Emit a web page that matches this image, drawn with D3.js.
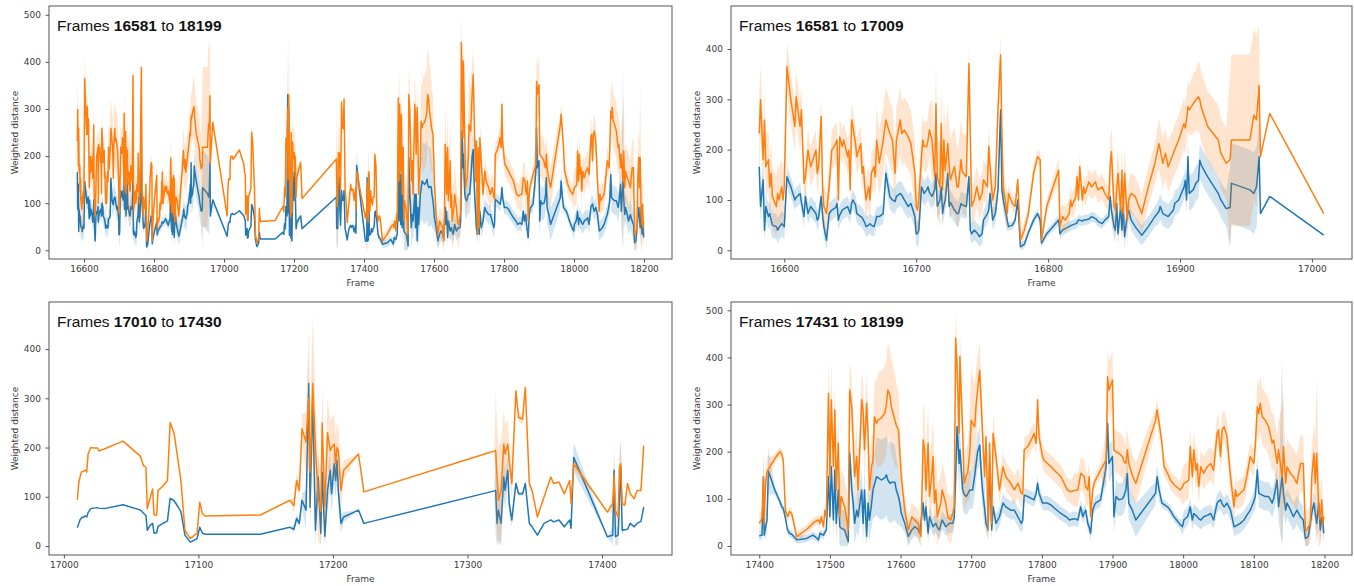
<!DOCTYPE html>
<html>
<head>
<meta charset="utf-8">
<script src="https://cdn.jsdelivr.net/npm/d3@7"></script>
<style>
  body { margin: 0; background: #fff; }
</style>
</head>
<body>
<div id="chart"></div>
<script>
// Frames 16581 - 17009
const framesA = [
  16581,16582,16584,16585,16586,16588,16589,16590,16591,16594,
  16595,16596,16598,16599,16600,16602,16605,16608,16609,16612,
  16613,16615,16616,16618,16620,16624,16625,16626,16628,16629,
  16630,16632,16634,16636,16639,16640,16641,16642,16644,16645,
  16648,16649,16650,16651,16652,16654,16655,16658,16659,16660,
  16661,16662,16664,16665,16666,16668,16669,16670,16671,16672,
  16675,16677,16680,16682,16684,16685,16688,16689,16691,16694,
  16696,16699,16700,16701,16702,16704,16705,16706,16708,16709,
  16710,16712,16714,16715,16716,16718,16719,16720,16721,16722,
  16724,16725,16726,16729,16731,16732,16734,16735,16738,16740,
  16741,16742,16744,16746,16748,16750,16751,16754,16755,16756,
  16758,16760,16762,16764,16765,16766,16769,16770,16773,16775,
  16777,16779,16782,16785,16789,16792,16794,16795,16799,16803,
  16808,16809,16811,16813,16816,16817,16818,16821,16822,16823,
  16824,16826,16827,16828,16831,16833,16836,16837,16838,16841,
  16843,16846,16847,16848,16850,16851,16852,16853,16855,16856,
  16857,16858,16860,16861,16863,16866,16871,16876,16881,16884,
  16885,16886,16887,16889,16891,16895,16896,16899,16901,16903,
  16904,16905,16906,16907,16910,16912,16914,16915,16916,16921,
  16929,16931,16935,16938,16939,16953,16956,16958,16960,16961,
  16968,17009
];
const blueA = [
  166,87,140,40,87,67,73,60,50,47,
  40,45,53,50,47,146,126,100,105,113,
  95,67,107,73,87,73,60,65,107,70,
  47,20,73,80,85,93,60,70,80,82,
  87,80,73,93,100,90,73,67,65,60,
  55,47,50,53,50,47,55,67,67,67,
  73,153,107,100,97,107,113,110,100,87,
  93,67,33,33,40,126,120,113,120,126,
  115,107,120,153,87,100,126,73,90,100,
  153,87,95,80,73,73,93,90,87,146,
  40,33,40,35,27,33,60,73,80,113,
  60,73,120,279,120,100,60,47,50,60,
  100,7,12,35,60,73,60,14,33,45,
  60,33,40,43,47,49,50,53,55,60,
  60,58,60,60,62,67,63,60,57,53,
  60,67,107,80,47,40,93,33,87,40,
  87,27,70,80,60,47,30,47,67,77,
  87,80,73,70,67,80,93,100,113,125,
  139,100,186,113,120,133,139,179,170,146,
  113,100,83,85,133,120,113,126,186,73,
  107,30
];
const blueErrA = [
  40,30,25,25,25,25,25,25,25,25,
  25,25,25,25,25,20,20,20,20,20,
  20,20,20,20,20,20,20,20,20,20,
  20,20,20,20,20,20,20,20,20,20,
  20,20,20,20,20,20,20,20,20,20,
  20,20,20,20,20,20,20,20,20,20,
  20,25,25,25,25,25,25,25,25,25,
  25,25,25,25,25,25,25,25,25,25,
  25,25,25,25,25,25,25,25,25,25,
  25,25,25,25,25,25,25,25,25,20,
  20,20,20,20,20,20,20,20,20,20,
  20,20,20,30,20,20,20,8,8,8,
  8,8,8,8,8,8,8,8,8,8,
  10,10,10,10,10,10,10,10,10,10,
  10,10,10,10,10,10,10,10,10,10,
  10,10,25,25,25,25,25,25,25,25,
  25,25,25,20,20,20,20,20,20,25,
  25,25,25,25,25,25,25,25,25,25,
  25,25,35,35,35,35,35,35,35,35,
  35,35,35,80,80,80,80,80,60,0,
  0,0
];
const orangeA = [
  232,299,180,259,166,180,126,153,107,87,
  113,100,126,100,126,365,299,246,305,246,
  279,133,146,199,166,199,153,166,266,126,
  87,73,126,199,212,219,100,225,206,219,
  186,199,120,259,246,212,186,212,153,166,
  126,100,126,100,153,166,146,219,199,173,
  219,259,232,219,153,219,259,232,239,225,
  212,153,87,80,100,186,219,206,206,219,
  239,219,146,291,146,126,252,120,219,159,
  212,166,140,166,126,126,180,156,146,371,
  232,87,100,126,100,113,140,126,206,166,
  100,126,279,388,232,126,73,113,93,87,
  140,20,40,73,153,186,180,20,87,120,
  159,47,67,60,73,100,87,107,146,100,
  166,100,126,113,136,126,136,125,120,126,
  113,100,166,196,87,80,120,153,80,159,
  73,153,60,100,113,107,73,126,173,212,
  200,186,173,193,166,193,200,219,235,252,
  243,260,285,279,291,299,305,300,285,246,
  219,193,173,180,219,219,269,259,328,186,
  272,73
];
const orangeErrA = [
  80,70,60,60,60,60,60,60,60,60,
  60,60,60,60,60,50,50,50,50,50,
  50,40,40,40,40,40,40,40,40,40,
  40,40,40,40,40,35,35,35,35,35,
  35,35,35,35,35,35,35,35,35,35,
  40,40,40,40,40,40,40,65,65,65,
  65,65,65,65,65,65,65,65,65,65,
  65,65,50,50,50,50,50,50,50,50,
  50,80,80,80,80,80,80,80,80,80,
  80,80,80,80,80,80,80,80,80,40,
  40,40,40,40,40,40,40,40,40,40,
  40,40,40,40,40,40,40,15,15,15,
  15,15,15,15,15,15,15,15,15,15,
  25,25,25,25,25,25,25,25,25,25,
  25,25,25,25,25,25,25,25,25,25,
  25,25,50,50,50,50,50,50,50,50,
  50,50,50,40,40,40,40,40,40,50,
  50,50,50,50,50,50,50,50,50,50,
  50,50,50,50,60,60,70,70,70,70,
  70,70,70,170,170,170,170,170,120,0,
  0,0
];

// Frames 17010 - 17431
const framesB = [
  17010,17011,17012,17013,17016,17017,17018,17020,17022,17025,
  17026,17030,17044,17057,17059,17061,17062,17064,17066,17067,
  17069,17070,17073,17077,17079,17082,17087,17090,17094,17097,
  17099,17101,17103,17105,17146,17168,17171,17173,17175,17177,
  17180,17182,17183,17185,17187,17189,17191,17192,17194,17196,
  17198,17199,17201,17202,17203,17204,17206,17208,17219,17223,
  17320,17321,17322,17323,17325,17327,17328,17330,17331,17333,17336,
  17338,17341,17343,17346,17348,17352,17357,17362,17364,17368,
  17372,17376,17377,17379,17404,17408,17409,17410,17412,17413,
  17414,17415,17417,17419,17421,17424,17426,17429,17431
];
const blueB = [
  37,45,53,57,61,59,68,76,77,78,
  77,76,84,73,67,62,32,42,46,26,
  27,40,45,51,97,92,70,22,8,12,
  15,38,26,24,24,38,34,56,46,93,
  73,330,79,300,32,140,26,150,20,113,
  154,106,167,133,174,113,46,59,73,46,
  112,113,46,73,46,140,113,154,86,53,127,
  106,106,127,46,39,22,46,53,49,53,
  39,53,36,180,19,22,154,19,22,100,
  160,32,33,34,46,39,46,50,79
];
const blueErrB = [
  0,0,0,0,0,0,0,0,0,0,
  0,0,0,0,0,0,0,0,0,0,
  0,0,0,0,0,0,0,0,0,0,
  0,0,0,0,0,0,8,8,8,15,
  40,60,50,60,50,50,50,50,40,40,
  40,40,40,40,40,40,20,10,0,0,
  0,90,70,60,60,40,40,30,20,15,5,
  5,5,5,0,0,0,0,0,0,0,
  0,0,0,30,0,20,60,20,20,60,
  60,10,0,0,0,0,0,0,0
];
const orangeB = [
  94,127,140,150,154,150,187,200,199,199,
  193,197,213,182,164,160,76,96,116,63,
  63,113,120,133,251,228,133,32,15,22,
  26,89,66,61,63,93,82,133,113,238,
  211,300,150,330,200,100,70,250,80,230,
  194,200,207,167,200,194,113,154,187,110,
  193,194,140,93,113,207,187,207,174,127,315,
  261,258,322,127,113,59,100,140,127,130,
  106,133,86,167,69,86,143,72,59,160,
  167,86,83,127,106,96,113,113,204
];
const orangeErrB = [
  0,0,0,0,0,0,0,0,0,0,
  0,0,0,0,0,0,0,0,0,0,
  0,0,0,0,0,0,0,0,0,0,
  0,0,0,0,0,0,15,15,15,30,
  60,140,100,140,90,90,80,80,70,70,
  60,60,60,60,50,50,40,20,0,0,
  0,120,110,110,100,70,60,50,40,30,10,
  10,10,10,5,5,0,0,0,0,0,
  0,0,0,10,0,20,40,20,20,40,
  40,10,0,0,0,0,0,0,0
];

// Frames 17400 - 18199
const framesC = [
  17400,17403,17404,17406,17407,17409,17411,17413,17415,17422,
  17429,17432,17434,17437,17440,17443,17446,17453,17467,17476,
  17479,17484,17486,17488,17491,17493,17495,17498,17500,17502,
  17505,17507,17509,17512,17514,17516,17521,17526,17528,17531,
  17533,17535,17538,17540,17545,17547,17549,17552,17554,17556,
  17559,17561,17563,17566,17568,17573,17578,17580,17582,17585,
  17587,17592,17594,17597,17599,17601,17606,17611,17616,17620,
  17625,17627,17629,17632,17634,17636,17639,17641,17644,17646,
  17648,17650,17652,17655,17657,17659,17664,17667,17669,17671,
  17674,17676,17678,17680,17683,17684,17688,17690,17693,17695,
  17698,17700,17702,17705,17707,17709,17712,17714,17716,17719,
  17721,17724,17726,17729,17731,17735,17740,17745,17749,17756,
  17761,17766,17771,17773,17775,17780,17785,17789,17792,17794,
  17796,17801,17803,17808,17813,17818,17827,17836,17839,17841,
  17846,17851,17855,17858,17860,17862,17865,17867,17869,17872,
  17874,17876,17883,17891,17893,17895,17900,17902,17905,17909,
  17914,17916,17919,17921,17923,17928,17933,17961,17963,17966,
  17970,17973,17978,17982,17987,17996,17999,18001,18006,18008,
  18010,18013,18015,18018,18020,18022,18025,18029,18034,18039,
  18043,18048,18050,18053,18055,18058,18062,18067,18072,18074,
  18076,18081,18086,18090,18095,18100,18102,18105,18107,18109,
  18112,18116,18121,18126,18128,18133,18135,18140,18142,18145,
  18147,18152,18156,18161,18166,18170,18173,18175,18177,18180,
  18182,18185,18187,18189,18192,18194,18196,18198,18199
];
const blueC = [
  21,23,23,147,23,40,55,158,150,119,
  95,83,80,60,34,27,25,13,16,23,
  20,13,27,25,23,30,34,147,62,168,
  55,161,48,119,41,38,34,9,197,119,
  91,48,76,62,119,48,119,20,91,55,
  90,119,130,147,145,140,145,151,140,133,
  135,135,119,105,91,70,48,20,34,41,
  35,27,50,91,55,83,27,62,50,41,
  45,48,40,34,45,55,41,45,48,48,
  48,60,147,253,175,204,119,110,105,110,
  119,119,119,150,175,200,214,160,119,80,
  48,34,175,34,83,48,62,91,83,76,
  76,62,48,55,108,105,101,98,112,133,
  112,91,91,91,87,80,69,60,55,56,
  58,55,83,62,70,76,48,40,27,76,
  85,91,98,168,260,175,190,62,105,98,
  100,105,120,154,91,76,55,112,147,119,
  91,88,83,75,62,45,41,55,62,70,
  83,55,69,65,62,58,55,62,65,69,
  55,91,95,98,90,83,91,76,41,42,
  44,48,55,65,76,95,105,161,112,110,
  108,105,105,91,100,140,83,147,110,76,
  91,76,62,76,62,55,16,18,20,48,
  70,91,70,48,91,34,60,48,27
];
const blueErrC = [
  10,10,10,60,10,20,30,50,40,10,
  8,8,8,8,8,8,8,8,8,8,
  8,8,8,8,8,8,8,40,40,40,
  40,40,40,40,40,40,40,40,40,40,
  45,45,45,45,45,45,45,45,45,45,
  50,60,70,80,85,85,85,85,85,85,
  85,80,70,60,50,30,20,20,20,20,
  20,20,20,20,20,20,20,20,20,20,
  20,20,20,20,20,20,20,20,20,20,
  20,20,60,60,60,40,40,40,40,40,
  40,40,40,40,40,40,40,40,40,40,
  20,20,20,20,20,20,20,20,20,20,
  20,20,20,20,15,15,15,15,15,15,
  15,15,15,15,15,15,15,15,15,15,
  15,15,15,15,15,15,15,15,15,15,
  15,15,15,35,40,40,35,35,35,35,
  35,35,35,35,35,35,35,25,25,25,
  10,10,10,10,10,10,20,20,20,20,
  20,20,20,20,20,20,20,20,20,20,
  20,20,20,20,20,20,20,20,20,20,
  20,20,20,20,20,20,30,30,30,30,
  30,30,30,30,30,30,30,250,40,30,
  30,30,30,30,30,30,20,20,20,20,
  25,25,25,40,25,25,25,20,20
];
const orangeC = [
  48,55,62,147,48,133,158,163,168,185,
  200,195,182,76,62,73,69,20,35,48,
  52,55,48,62,41,76,62,324,147,310,
  168,289,119,218,62,105,83,34,331,296,
  225,147,190,119,310,289,204,303,239,119,
  168,182,274,260,267,272,283,300,331,320,
  296,267,256,246,200,147,76,34,62,55,
  48,30,20,225,204,119,218,105,147,190,
  91,119,62,80,91,119,91,62,58,55,
  70,83,441,380,239,402,239,133,150,154,
  200,267,260,253,300,331,373,310,240,147,
  232,34,218,48,239,190,119,168,147,133,
  119,133,112,110,204,211,225,239,218,310,
  232,190,182,175,168,160,147,119,117,115,
  118,119,154,150,147,126,119,147,62,119,
  133,140,161,182,359,331,352,204,200,197,
  190,180,175,204,175,150,133,267,289,260,
  218,168,154,140,130,119,125,133,137,140,
  211,147,204,161,175,126,168,154,168,175,
  161,239,246,190,246,253,232,147,83,119,
  105,112,119,147,190,175,211,295,281,303,
  274,267,253,218,225,175,204,147,211,133,
  168,154,147,133,175,175,34,34,40,48,
  147,197,133,197,76,55,98,48,62
];
const orangeErrC = [
  20,20,20,50,20,30,30,30,20,10,
  10,10,10,10,10,10,10,10,10,10,
  10,10,10,10,10,10,10,80,80,80,
  60,60,60,60,60,60,60,60,60,60,
  60,60,60,60,60,60,60,60,60,60,
  60,60,80,90,100,100,100,100,100,100,
  100,100,90,80,60,40,30,30,30,30,
  30,30,30,80,80,80,80,80,80,80,
  80,80,70,60,60,60,50,50,50,50,
  40,40,60,60,60,60,60,60,60,60,
  100,110,100,90,80,70,60,60,50,40,
  40,40,40,40,40,30,30,30,30,30,
  30,30,30,30,25,25,25,25,25,25,
  25,25,25,25,25,25,25,25,25,25,
  35,35,35,35,35,35,35,35,35,15,
  15,15,15,60,60,60,60,45,45,45,
  45,45,45,45,45,45,45,25,25,25,
  20,20,20,20,20,20,40,40,40,40,
  40,40,40,40,40,40,35,35,35,35,
  35,35,35,35,35,35,35,35,30,30,
  30,30,30,30,30,30,30,60,60,60,
  60,60,60,60,60,60,60,150,120,60,
  60,60,60,60,60,60,40,40,40,40,
  60,60,100,160,80,60,60,40,30
];

// tick values per panel
const xTicksAll = [16600, 16800, 17000, 17200, 17400, 17600, 17800, 18000, 18200];
const xTicksFirst = [16600, 16700, 16800, 16900, 17000];
const xTicksMiddle = [17000, 17100, 17200, 17300, 17400];
const xTicksLast = [17400, 17500, 17600, 17700, 17800, 17900, 18000, 18100, 18200];
const yTicks500 = [0, 100, 200, 300, 400, 500];
const yTicks400 = [0, 100, 200, 300, 400];

// panel titles
const titleStarts = ["16581", "16581", "17010", "17431"];
const titleEnds = ["18199", "17009", "17430", "18199"];

const BLUE = "#1f77b4";
const ORANGE = "#ff7f0e";
const LABEL_FONT = "'DejaVu Sans', sans-serif";
const TITLE_FONT = "'Liberation Sans', Arial, sans-serif";

function makeRows(frames, blue, blueErr, orange, orangeErr) {
    return frames.map((f, i) => ({
        frame: f,
        blue: blue[i], blueErr: blueErr[i],
        orange: orange[i], orangeErr: orangeErr[i]
    }));
}
const segA = makeRows(framesA, blueA, blueErrA, orangeA, orangeErrA);
const segB = makeRows(framesB, blueB, blueErrB, orangeB, orangeErrB);
const segC = makeRows(framesC, blueC, blueErrC, orangeC, orangeErrC);
const lastB = d3.max(framesB);
const allRows = segA.concat(segB, segC.filter(d => d.frame > lastB));

const FRAME = d3.select("#chart")
    .append("svg")
    .attr("width", 1354)
    .attr("height", 586);

const panels = [
    { data: allRows, box: { left: 49, right: 672, top: 6, bottom: 259 }, yDomain: [-18.5, 518.7], xTicks: xTicksAll, yTicks: yTicks500 },
    { data: segA, box: { left: 731, right: 1352, top: 6, bottom: 259 }, yDomain: [-17.3, 485.4], xTicks: xTicksFirst, yTicks: yTicks400 },
    { data: segB, box: { left: 49, right: 672, top: 302, bottom: 555 }, yDomain: [-18.2, 495.6], xTicks: xTicksMiddle, yTicks: yTicks400 },
    { data: segC, box: { left: 731, right: 1352, top: 302, bottom: 555 }, yDomain: [-19.1, 517.6], xTicks: xTicksLast, yTicks: yTicks500 }
];

panels.forEach((p, idx) => {
    const b = p.box;
    const ext = d3.extent(p.data, d => d.frame);
    const pad = (ext[1] - ext[0]) * 0.05;
    const x = d3.scaleLinear().domain([ext[0] - pad, ext[1] + pad]).range([b.left, b.right]);
    const y = d3.scaleLinear().domain(p.yDomain).range([b.bottom, b.top]);

    const clipId = "clip" + idx;
    FRAME.append("clipPath").attr("id", clipId)
        .append("rect")
        .attr("x", b.left).attr("y", b.top)
        .attr("width", b.right - b.left).attr("height", b.bottom - b.top);

    const plot = FRAME.append("g").attr("clip-path", "url(#" + clipId + ")");

    // one band + line per series, blue first then orange on top
    [["blue", "blueErr", BLUE], ["orange", "orangeErr", ORANGE]].forEach(([key, errKey, color]) => {
        const band = d3.area()
            .x(d => x(d.frame))
            .y0(d => y(Math.max(0, d[key] - d[errKey])))
            .y1(d => y(d[key] + d[errKey]));
        plot.append("path")
            .datum(p.data)
            .attr("d", band)
            .attr("fill", color)
            .attr("fill-opacity", 0.2)
            .attr("stroke", "none");

        const line = d3.line()
            .x(d => x(d.frame))
            .y(d => y(d[key]));
        plot.append("path")
            .datum(p.data)
            .attr("d", line)
            .attr("fill", "none")
            .attr("stroke", color)
            .attr("stroke-width", 1.5)
            .attr("stroke-linejoin", "round");
    });

    // x axis
    const xAxis = FRAME.append("g")
        .attr("transform", "translate(0," + b.bottom + ")")
        .call(d3.axisBottom(x).tickValues(p.xTicks).tickFormat(d3.format("d")).tickSize(3.5).tickPadding(3.5));
    // y axis
    const yAxis = FRAME.append("g")
        .attr("transform", "translate(" + b.left + ",0)")
        .call(d3.axisLeft(y).tickValues(p.yTicks).tickFormat(d3.format("d")).tickSize(3.5).tickPadding(4.5));
    [xAxis, yAxis].forEach(ax => {
        ax.select(".domain").remove();
        ax.selectAll("line").attr("stroke", "#555");
        ax.selectAll("text")
            .attr("fill", "#3a3a3a")
            .style("font-size", "9px")
            .style("font-family", LABEL_FONT);
    });

    // frame around the axes
    FRAME.append("rect")
        .attr("x", b.left).attr("y", b.top)
        .attr("width", b.right - b.left).attr("height", b.bottom - b.top)
        .attr("fill", "none")
        .attr("stroke", "#555")
        .attr("stroke-width", 1);

    // axis labels
    FRAME.append("text")
        .attr("x", (b.left + b.right) / 2)
        .attr("y", b.bottom + 27)
        .attr("text-anchor", "middle")
        .style("font-size", "9px")
        .style("font-family", LABEL_FONT)
        .attr("fill", "#3a3a3a")
        .text("Frame");
    FRAME.append("text")
        .attr("transform", "translate(" + (b.left - 34) + "," + ((b.top + b.bottom) / 2) + ") rotate(-90)")
        .attr("dy", "0.35em")
        .attr("text-anchor", "middle")
        .style("font-size", "9px")
        .style("font-family", LABEL_FONT)
        .attr("fill", "#3a3a3a")
        .text("Weighted distance");

    // title inside the axes
    const title = FRAME.append("text")
        .attr("x", b.left + 8)
        .attr("y", b.top + 24.5)
        .style("font-family", TITLE_FONT)
        .style("font-size", "15.5px")
        .attr("fill", "#111");
    title.append("tspan").text("Frames ");
    title.append("tspan").attr("font-weight", "bold").text(titleStarts[idx]);
    title.append("tspan").text(" to ");
    title.append("tspan").attr("font-weight", "bold").text(titleEnds[idx]);
});
</script>
</body>
</html>
